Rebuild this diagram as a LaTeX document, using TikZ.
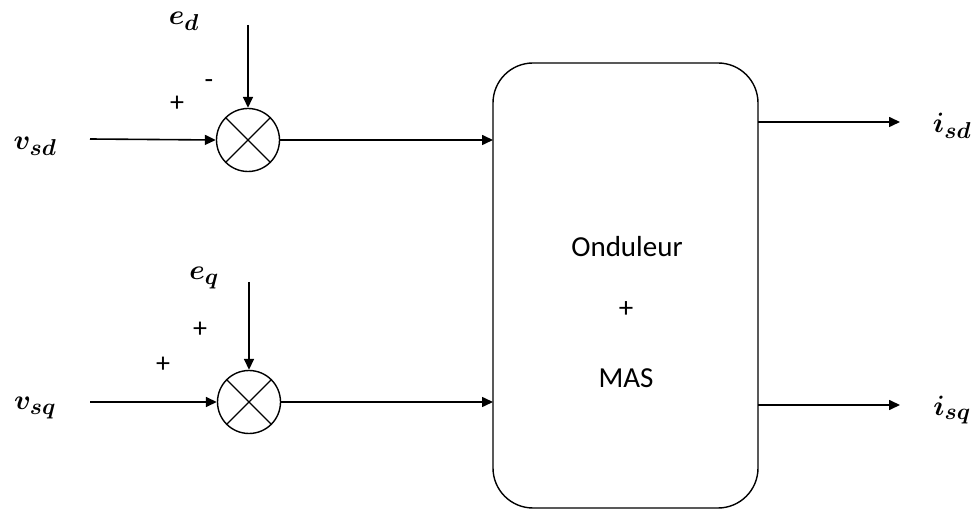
\RequirePackage{fix-cm}
\documentclass[tikz,border=0pt]{standalone}
\usepackage{amsmath,bm}
\usepackage{fontspec}
\setmainfont{Carlito}
\DeclareMathSizes{28}{28}{23}{18}
\usetikzlibrary{arrows.meta}
\begin{document}
\begin{tikzpicture}[x=1pt,y=-1pt,
  conn/.style={line width=1.6pt,-{Triangle[length=11pt,width=10pt]}},
  sumnode/.style={circle,draw,line width=1.4pt,minimum size=63pt,inner sep=0pt},
  mlabel/.style={font=\fontsize{28}{30}\selectfont},
  sign/.style={font=\fontsize{28}{30}\selectfont,inner sep=0pt},
  boxtext/.style={font=\fontsize{29}{32}\selectfont}]
\useasboundingbox (0,0) rectangle (980,510);
% sum junctions
\node[sumnode] (s1) at (248,140) {};
\node[sumnode] (s2) at (249,402) {};
\draw[line width=1.3pt] (s1.north west) -- (s1.south east) (s1.north east) -- (s1.south west);
\draw[line width=1.3pt] (s2.north west) -- (s2.south east) (s2.north east) -- (s2.south west);
% main block
\draw[line width=1.4pt,rounded corners=40pt] (493,63) rectangle (758,508);
\coordinate (bw1) at (493,140);
\coordinate (bw2) at (493,402);
\coordinate (be1) at (758,122);
\coordinate (be2) at (758,405);
\node[boxtext] (t1) at (627,247) {Onduleur};
\node[boxtext] (t2) at (626,310) {+};
\node[boxtext] (t3) at (626,378) {MAS};
% inputs
\coordinate (in1) at (90,139);
\coordinate (in2) at (90,402);
\coordinate (ed0) at (248,25);
\coordinate (eq0) at (249,282);
\draw[conn] (in1) -- (s1.west);
\draw[conn] (in2) -- (s2.west);
\draw[conn] (ed0) -- (s1.north);
\draw[conn] (eq0) -- (s2.north);
\draw[conn] (s1.east) -- (bw1);
\draw[conn] (s2.east) -- (bw2);
% outputs
\coordinate (o1) at (900,122);
\coordinate (o2) at (900,405);
\draw[conn] (be1) -- (o1);
\draw[conn] (be2) -- (o2);
% labels
\node[mlabel] (lvsd) at (35,146) {$\bm{v}_{\bm{sd}}$};
\node[mlabel] (lvsq) at (35,408) {$\bm{v}_{\bm{sq}}$};
\node[mlabel] (led) at (184,21) {$\bm{e}_{\bm{d}}$};
\node[mlabel] (leq) at (204,278) {$\bm{e}_{\bm{q}}$};
\node[mlabel] (lisd) at (952,126) {$\bm{i}_{\bm{sd}}$};
\node[mlabel] (lisq) at (952,410) {$\bm{i}_{\bm{sq}}$};
% signs
\node[sign] (p1) at (177,104) {+};
\node[sign] (m1) at (209,84) {-};
\node[sign] (p2) at (200,330) {+};
\node[sign] (p3) at (163,365) {+};
\end{tikzpicture}
\end{document}
